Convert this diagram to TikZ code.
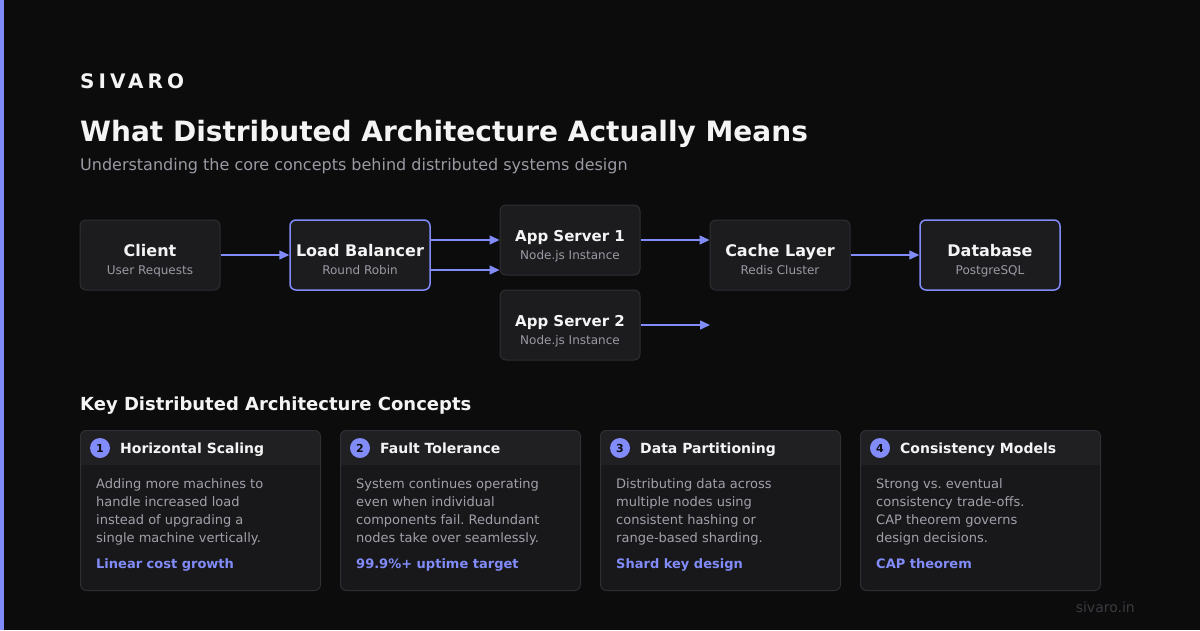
\documentclass[tikz,border=0pt]{standalone}
\usepackage{fontspec}
\setmainfont{DejaVu Sans}
\newfontfamily\spacedfont[LetterSpace=20]{DejaVu Sans}
\usetikzlibrary{arrows.meta}
\frenchspacing
\definecolor{bgc}{HTML}{0C0C0D}
\definecolor{accent}{HTML}{818CF8}
\definecolor{boxfill}{HTML}{1C1C1F}
\definecolor{boxline}{HTML}{2E2E33}
\definecolor{cardhead}{HTML}{202023}
\definecolor{cardbody}{HTML}{18181B}
\definecolor{titlec}{HTML}{F4F4F5}
\definecolor{subc}{HTML}{9A9AA3}
\definecolor{bodyc}{HTML}{A1A1AA}
\definecolor{footc}{HTML}{3A3A40}
\tikzset{
  archbox/.style={rectangle, rounded corners=6pt, fill=boxfill, draw=boxline, line width=1pt, minimum width=140pt, minimum height=70pt, inner sep=0pt},
  hibox/.style={archbox, draw=accent, line width=1.5pt},
  boxtitle/.style={anchor=base, text=titlec, font=\bfseries\fontsize{16}{19}\selectfont, inner sep=0pt},
  boxsub/.style={anchor=base, text=subc, font=\fontsize{12}{14}\selectfont, inner sep=0pt},
  flow/.style={draw=accent, line width=1.5pt, -{Triangle[length=10pt,width=9pt]}},
  cardframe/.style={rectangle, rounded corners=6pt, draw=boxline, line width=1pt, minimum width=240pt, minimum height=160pt, inner sep=0pt},
  badge/.style={circle, fill=accent, minimum size=20pt, inner sep=0pt, text=bgc, font=\bfseries\fontsize{11}{13}\selectfont},
  cardtitle/.style={anchor=base west, text=titlec, font=\bfseries\fontsize{14}{17}\selectfont, inner sep=0pt},
  cardtext/.style={anchor=base west, text=bodyc, font=\fontsize{13}{18}\selectfont, inner sep=0pt, align=left},
  cardhi/.style={anchor=base west, text=accent, font=\bfseries\fontsize{13}{16}\selectfont, inner sep=0pt}
}
\newcommand{\concept}[6]{%
  % #1 left x, #2 name, #3 number, #4 title, #5 body, #6 highlight
  \begin{scope}
    \clip[rounded corners=6pt] (#1,430) rectangle ++(240,160);
    \fill[cardbody] (#1,430) rectangle ++(240,160);
    \fill[cardhead] (#1,430) rectangle ++(240,35);
  \end{scope}
  \node[cardframe, anchor=north west] (#2) at (#1,430) {};
  \node[badge] (#2num) at ([xshift=20pt,yshift=-18pt]#2.north west) {#3};
  \node[cardtitle] (#2title) at ([xshift=40pt,yshift=-23pt]#2.north west) {#4};
  \node[cardtext] (#2body) at ([xshift=16pt,yshift=-112pt]#2.north west) {#5};
  \node[cardhi] (#2hi) at ([xshift=16pt,yshift=-138pt]#2.north west) {#6};
}
\begin{document}
\begin{tikzpicture}[x=1pt,y=-1pt]
\fill[bgc] (0,0) rectangle (1200,630);
\useasboundingbox (0,0) rectangle (1200,630);
\fill[accent] (0,0) rectangle (4,630);

\node[anchor=base west, inner sep=0pt, text=titlec, font=\spacedfont\bfseries\fontsize{20}{24}\selectfont] (brand) at (80,88) {SIVARO};
\node[anchor=base west, inner sep=0pt, text=titlec, font=\bfseries\fontsize{28}{34}\selectfont] (title) at (80,141) {What Distributed Architecture Actually Means};
\node[anchor=base west, inner sep=0pt, text=subc, font=\fontsize{16}{19}\selectfont] (subtitle) at (80,170) {Understanding the core concepts behind distributed systems design};

% architecture boxes
\node[archbox] (client) at (150,255) {};
\node[hibox] (lb) at (360,255) {};
\node[archbox] (as1) at (570,240) {};
\node[archbox] (as2) at (570,325) {};
\node[archbox] (cache) at (780,255) {};
\node[hibox] (db) at (990,255) {};

\node[boxtitle] (clientT) at (150,256) {Client};
\node[boxsub] (clientS) at (150,274) {User Requests};
\node[boxtitle] (lbT) at (360,256) {Load Balancer};
\node[boxsub] (lbS) at (360,274) {Round Robin};
\node[boxtitle, font=\bfseries\fontsize{15}{18}\selectfont] (as1T) at (570,241) {App Server 1};
\node[boxsub] (as1S) at (570,259) {Node.js Instance};
\node[boxtitle, font=\bfseries\fontsize{15}{18}\selectfont] (as2T) at (570,326) {App Server 2};
\node[boxsub] (as2S) at (570,344) {Node.js Instance};
\node[boxtitle] (cacheT) at (780,256) {Cache Layer};
\node[boxsub] (cacheS) at (780,274) {Redis Cluster};
\node[boxtitle] (dbT) at (990,256) {Database};
\node[boxsub] (dbS) at (990,274) {PostgreSQL};

\coordinate (as2end) at (710,325);

\draw[flow] (client.east) -- (lb.west);
\draw[flow] ([yshift=15pt]lb.east) -- (as1.west);
\draw[flow] ([yshift=-15pt]lb.east) -- ([yshift=-30pt]as1.west);
\draw[flow] (as1.east) -- ([yshift=15pt]cache.west);
\draw[flow] (as2.east) -- (as2end);
\draw[flow] (cache.east) -- (db.west);

\node[anchor=base west, inner sep=0pt, text=titlec, font=\bfseries\fontsize{18}{22}\selectfont] (section) at (80,410) {Key Distributed Architecture Concepts};

\concept{80}{c1}{1}{Horizontal Scaling}{Adding more machines to\\handle increased load\\instead of upgrading a\\single machine vertically.}{Linear cost growth}
\concept{340}{c2}{2}{Fault Tolerance}{System continues operating\\even when individual\\components fail. Redundant\\nodes take over seamlessly.}{99.9\%+ uptime target}
\concept{600}{c3}{3}{Data Partitioning}{Distributing data across\\multiple nodes using\\consistent hashing or\\range-based sharding.}{Shard key design}
\concept{860}{c4}{4}{Consistency Models}{Strong vs. eventual\\consistency trade-offs.\\CAP theorem governs\\design decisions.}{CAP theorem}

\node[anchor=base east, inner sep=0pt, text=footc, font=\fontsize{14}{17}\selectfont] (footer) at (1135,612) {sivaro.in};
\end{tikzpicture}
\end{document}
